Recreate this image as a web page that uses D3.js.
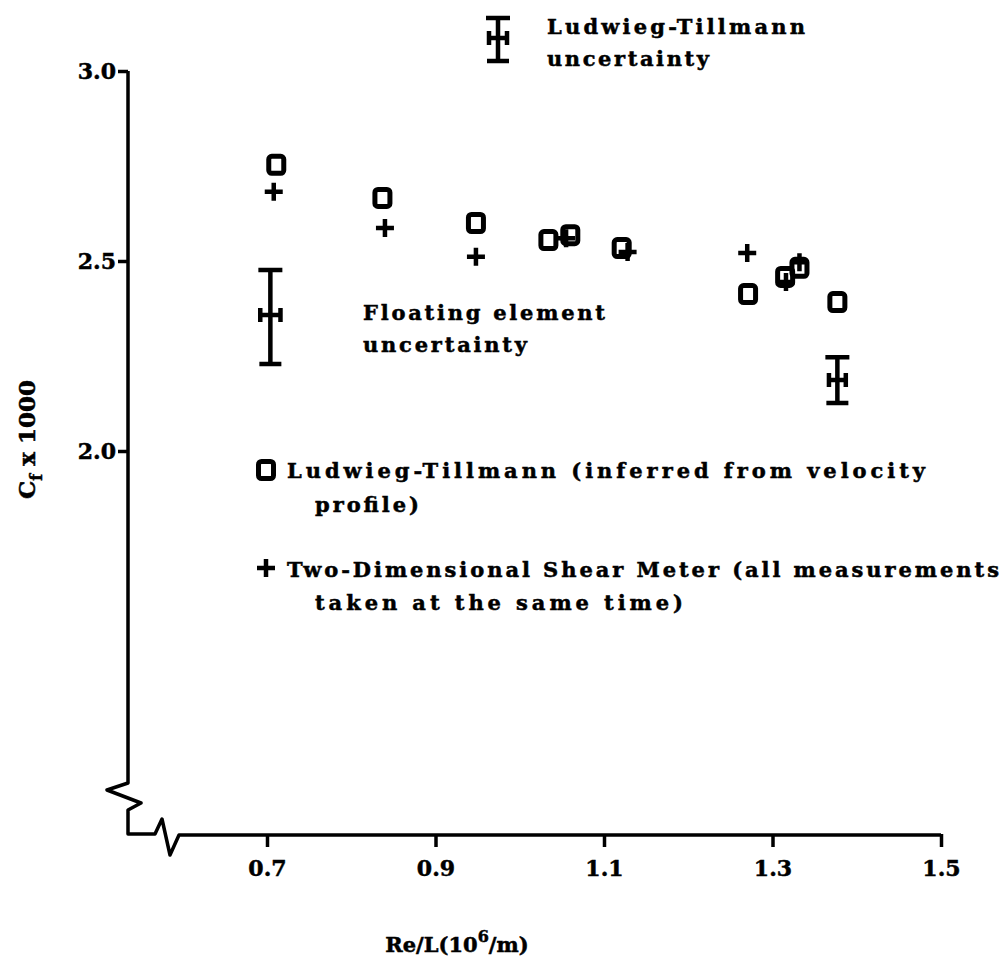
<!DOCTYPE html>
<html>
<head>
<meta charset="utf-8">
<script src="https://cdn.jsdelivr.net/npm/d3@7"></script>
<style>
  html, body { margin: 0; padding: 0; background: #fff; }
  svg text { font-family: "DejaVu Serif", serif; font-weight: bold; fill: #000; stroke: #000; stroke-width: 0.5px; }
</style>
</head>
<body>
<svg id="chart" width="1008" height="959"></svg>
<script>
// Ludwieg-Tillmann (squares) values
const ltRe = [0.711, 0.837, 0.948, 1.034, 1.060, 1.121, 1.271, 1.315, 1.332, 1.377];
const ltCf = [2.753, 2.666, 2.600, 2.555, 2.568, 2.534, 2.413, 2.458, 2.482, 2.392];

// Two-dimensional shear meter (plus) values
const smRe = [0.708, 0.840, 0.948, 1.055, 1.128, 1.270, 1.316, 1.332];
const smCf = [2.682, 2.587, 2.511, 2.560, 2.524, 2.521, 2.445, 2.497];

// uncertainty bars: centre, vertical half-range, horizontal half-range
const errRe = [0.704, 1.377];
const errCf = [2.358, 2.187];
const errUp = [0.118, 0.060];
const errDn = [0.129, 0.061];
const errDx = [0.012, 0.010];

const xTicks = [0.7, 0.9, 1.1, 1.3, 1.5];
const yTicks = [2.0, 2.5, 3.0];

const svg = d3.select("#chart");
const ink = "#000";

const x = d3.scaleLinear().domain([0.7, 1.5]).range([267, 941]);
const y = d3.scaleLinear().domain([2.0, 3.0]).range([451, 71]);

// frame corner (below the axis breaks)
const x0 = 128, y0 = 834;

// y axis ticks + labels
const yAxis = svg.append("g")
  .attr("transform", `translate(${x0},0)`)
  .call(d3.axisLeft(y).tickValues(yTicks).tickSize(10).tickPadding(2).tickFormat(d3.format(".1f")));
yAxis.select(".domain").remove();
yAxis.selectAll(".tick line").attr("stroke", ink).attr("stroke-width", 3.5);
yAxis.selectAll(".tick text").style("font-size", "22px").attr("fill", ink);

// x axis ticks + labels
const xAxis = svg.append("g")
  .attr("transform", `translate(0,${y0})`)
  .call(d3.axisBottom(x).tickValues(xTicks).tickSize(13).tickPadding(13).tickFormat(d3.format(".1f")));
xAxis.select(".domain").remove();
xAxis.selectAll(".tick line").attr("stroke", ink).attr("stroke-width", 3.5);
xAxis.selectAll(".tick text").style("font-size", "22px").attr("fill", ink);

// axis lines with break marks
const yTop = y(3.0);
const axisPath = d3.path();
axisPath.moveTo(x0, yTop);
axisPath.lineTo(x0, y0 - 51);
axisPath.lineTo(x0 - 21, y0 - 44);
axisPath.lineTo(x0 + 13, y0 - 31);
axisPath.lineTo(x0, y0 - 24);
axisPath.lineTo(x0, y0);
axisPath.lineTo(x0 + 27, y0);
axisPath.lineTo(x0 + 34, y0 - 15);
axisPath.lineTo(x0 + 42, y0 + 21);
axisPath.lineTo(x0 + 51, y0 + 1);
axisPath.lineTo(x(1.5), y0 + 1);

svg.append("path")
  .attr("d", axisPath.toString())
  .attr("fill", "none")
  .attr("stroke", ink)
  .attr("stroke-width", 3.5)
  .attr("stroke-linejoin", "round");

// axis titles
const xTitle = svg.append("text")
  .attr("x", 457)
  .attr("y", 952)
  .attr("text-anchor", "middle")
  .style("font-size", "21px");
xTitle.append("tspan").text("Re/L(10");
xTitle.append("tspan").attr("dy", -10).style("font-size", "16px").text("6");
xTitle.append("tspan").attr("dy", 10).text("/m)");

const yTitle = svg.append("text")
  .attr("transform", "translate(35,380) rotate(-90)")
  .attr("text-anchor", "end")
  .style("font-size", "23px");
yTitle.append("tspan").text("C");
yTitle.append("tspan").attr("dy", 7).style("font-size", "16px").text("f");
yTitle.append("tspan").attr("dy", -7).text(" x 1000");

// marker shapes
function squareMark(g) {
  g.append("rect")
    .attr("x", -7.5).attr("y", -8.5)
    .attr("width", 15).attr("height", 17)
    .attr("rx", 3)
    .attr("fill", "none")
    .attr("stroke", ink)
    .attr("stroke-width", 5);
}
function plusMark(g) {
  g.append("path")
    .attr("d", "M-9,0H9M0,-9V9")
    .attr("stroke", ink)
    .attr("stroke-width", 4.5);
}

const ltData = ltRe.map((v, i) => ({ re: v, cf: ltCf[i] }));
const smData = smRe.map((v, i) => ({ re: v, cf: smCf[i] }));

svg.append("g").selectAll("g")
  .data(ltData)
  .join("g")
  .attr("transform", d => `translate(${x(d.re)},${y(d.cf)})`)
  .each(function () { squareMark(d3.select(this)); });

svg.append("g").selectAll("g")
  .data(smData)
  .join("g")
  .attr("transform", d => `translate(${x(d.re)},${y(d.cf)})`)
  .each(function () { plusMark(d3.select(this)); });

// error bars
function errorBar(g, cx, cy, top, bot, left, right) {
  g.append("path")
    .attr("d", `M${cx},${top}V${bot}M${cx - 12},${top}H${cx + 12}M${cx - 11},${bot}H${cx + 11}` +
      `M${left},${cy}H${right}M${left},${cy - 7}V${cy + 7}M${right},${cy - 7}V${cy + 7}`)
    .attr("fill", "none")
    .attr("stroke", ink)
    .attr("stroke-width", 4.5);
}

errRe.forEach((re, i) => {
  errorBar(svg.append("g"),
    x(re), y(errCf[i]),
    y(errCf[i] + errUp[i]), y(errCf[i] - errDn[i]),
    x(re - errDx[i]), x(re + errDx[i]));
});

// text helper: width matched to the typewritten original
function note(tx, ty, str, len) {
  svg.append("text")
    .attr("x", tx).attr("y", ty)
    .attr("textLength", len)
    .attr("lengthAdjust", "spacing")
    .style("font-size", "21px")
    .text(str);
}

// Ludwieg-Tillmann uncertainty key (top)
errorBar(svg.append("g"), 498, 38, 18, 61, 489, 507);
note(547, 34, "Ludwieg-Tillmann", 258);
note(547, 66, "uncertainty", 162);

// floating element note
note(363, 320, "Floating element", 242);
note(363, 352, "uncertainty", 164);

// legend
squareMark(svg.append("g").attr("transform", "translate(266,470)"));
note(287, 478, "Ludwieg-Tillmann (inferred from velocity", 638);
note(315, 512, "profile)", 104);

plusMark(svg.append("g").attr("transform", "translate(266,568)"));
note(287, 577, "Two-Dimensional Shear Meter (all measurements", 712);
note(315, 610, "taken at the same time)", 368);
</script>
</body>
</html>
